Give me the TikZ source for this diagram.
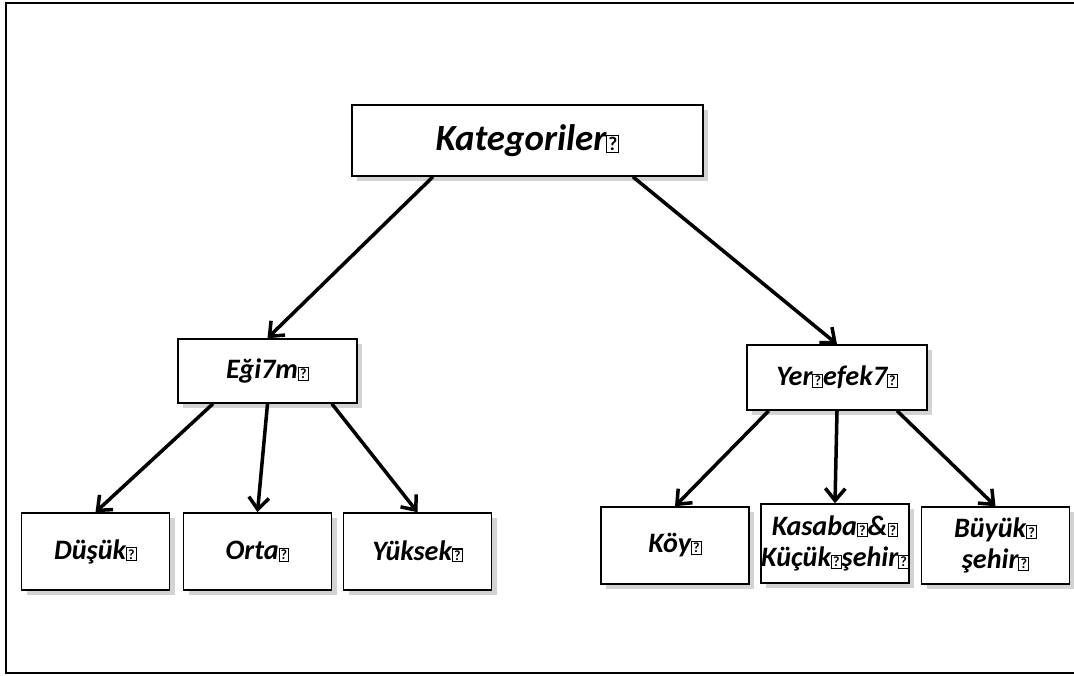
\documentclass[tikz,border=0pt]{standalone}
\usepackage{fontspec}
\setmainfont{Carlito}
\usepackage{tikz}
\usetikzlibrary{arrows.meta,shadows,positioning}
\newcommand{\qb}[1][8]{{\fboxsep=0.6pt\fboxrule=0.6pt\fbox{\normalfont\bfseries\fontsize{#1}{#1}\selectfont ?}}}

\begin{document}
\begin{tikzpicture}
	\tikzstyle{every node} = [rectangle, draw = black, line width = 0.9pt, fill = white, drop shadow = {opacity = 0.35, shadow xshift = 0.6ex, shadow yshift = -0.6ex}, font = \fontsize{16}{18}\selectfont\bfseries\itshape, align = center]
	\tikzstyle{leaf} = [minimum width = 2.96cm, minimum height = 1.54cm]
	\tikzstyle{arw} = [line width = 2pt, -{Straight Barb[length=2.4mm,width=4mm]}]
\useasboundingbox (0, 0) rectangle (21.48, -13.5);
\clip (0, 0) rectangle (21.48, -13.5);
\draw[line width = 1.3pt] (0.12, -0.06) rectangle (21.8, -13.46);
\node[minimum width = 7.02cm, minimum height = 1.42cm, font = \fontsize{21}{21}\selectfont\bfseries\itshape] (0) at (10.55, -2.81) {Kategoriler\qb[11]};
\node[minimum width = 3.58cm, minimum height = 1.28cm] (1) at (5.35, -7.42) {Eği7m\qb};
\node[minimum width = 3.6cm, minimum height = 1.3cm] (2) at (16.74, -7.55) {Yer\qb efek7\qb};
\node[leaf] (3) at (1.91, -11.03) {Düşük\qb};
\node[leaf] (4) at (5.15, -11.03) {Orta\qb};
\node[leaf] (5) at (8.35, -11.03) {Yüksek\qb};
\node[leaf] (6) at (13.5, -10.91) {Köy\qb};
\node[leaf, minimum height = 1.58cm, inner xsep = 0pt] (7) at (16.7, -10.87) {Kasaba\qb\&\qb\\Küçük\qb şehir\qb};
\node[leaf] (8) at (19.91, -10.91) {Büyük\qb\\şehir\qb};
	\path[draw, arw] (0.201) -- (1.north);
	\path[draw, arw] (0.341) -- (2.north);
	\path[draw, arw] (1.211) -- (3.north);
	\path[draw, arw] (1.south) -- (4.north);
	\path[draw, arw] (1.333) -- (5.north);
	\path[draw, arw] (2.206) -- (6.north);
	\path[draw, arw] (2.south) -- (7.north);
	\path[draw, arw] (2.331) -- (8.north);
\end{tikzpicture}
\end{document}
